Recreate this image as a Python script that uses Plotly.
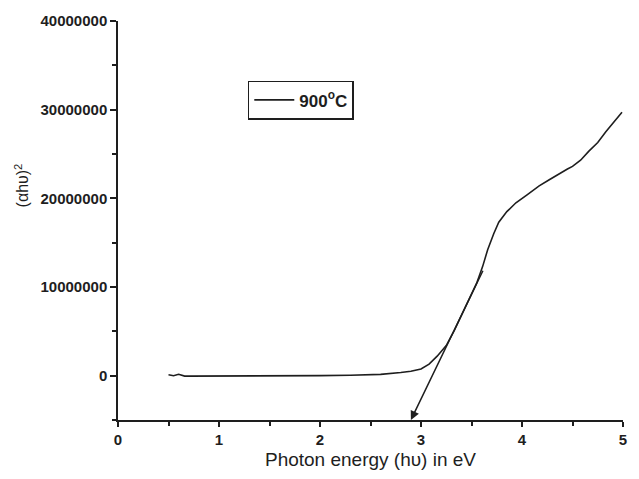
import plotly.graph_objects as go

# Curve data: photon energy (eV) vs (alpha h nu)^2
energy = [0.50, 0.55, 0.60, 0.63, 0.66, 0.70, 1.00, 1.50, 2.00, 2.30, 2.60, 2.80, 2.90,
          3.00, 3.08, 3.16, 3.25, 3.33, 3.41, 3.48, 3.55, 3.61, 3.66, 3.72, 3.77,
          3.85, 3.94, 4.05, 4.17, 4.27, 4.37, 4.45, 4.50, 4.58, 4.66, 4.75, 4.83, 4.91, 4.99]
alpha_hv2 = [0.10e6, 0.0, 0.15e6, 0.05e6, -0.05e6, -0.05e6, -0.05e6, -0.05e6, 0.0, 0.05e6,
             0.15e6, 0.35e6, 0.50e6, 0.75e6, 1.30e6, 2.20e6, 3.40e6, 5.10e6, 7.00e6, 8.70e6,
             10.4e6, 12.3e6, 14.2e6, 16.0e6, 17.3e6, 18.5e6, 19.5e6, 20.4e6, 21.4e6, 22.1e6,
             22.8e6, 23.3e6, 23.6e6, 24.3e6, 25.3e6, 26.3e6, 27.5e6, 28.6e6, 29.7e6]

# Tangent (extrapolation) line: tail and head
tangent_x = [3.62, 2.90]
tangent_y = [12.0e6, -5.0e6]

legend_label = "<b>900<sup>o</sup>C</b>"
y_ticks = [0, 10000000, 20000000, 30000000, 40000000]
y_ticktext = ["0", "10000000", "20000000", "30000000", "40000000"]
x_ticks = [0, 1, 2, 3, 4, 5]
x_ticktext = ["0", "1", "2", "3", "4", "5"]

INK = "#1e1e1e"
FONT = "Liberation Sans, Arial, sans-serif"

fig = go.Figure()
fig.add_trace(go.Scatter(x=energy, y=alpha_hv2, mode="lines",
                         line=dict(color=INK, width=1.6),
                         name=legend_label, showlegend=True))

fig.add_annotation(x=tangent_x[1], y=tangent_y[1], ax=tangent_x[0], ay=tangent_y[0],
                   xref="x", yref="y", axref="x", ayref="y",
                   showarrow=True, arrowhead=2, arrowsize=1.2, arrowwidth=1.5,
                   arrowcolor=INK, text="")

fig.add_annotation(text="(αhυ)<sup>2</sup>", xref="paper", yref="paper",
                   x=-0.19, y=0.588, xanchor="center", yanchor="middle",
                   showarrow=False, textangle=-90,
                   font=dict(family=FONT, size=16, color=INK))

fig.update_layout(
    width=639, height=479,
    margin=dict(l=118, r=15, t=13, b=55),
    plot_bgcolor="white", paper_bgcolor="white",
    font=dict(family=FONT, color=INK),
    showlegend=True,
    legend=dict(x=0.257, y=0.85, xanchor="left", yanchor="top",
                bordercolor=INK, borderwidth=1.5, bgcolor="white",
                font=dict(size=17, color=INK, family=FONT),
                itemwidth=40, tracegroupgap=0),
    xaxis=dict(range=[0, 5], tickvals=x_ticks, ticktext=["<b>%s</b>" % t for t in x_ticktext],
               showgrid=False, zeroline=False,
               showline=True, linecolor=INK, linewidth=1.5,
               ticks="outside", ticklen=5, tickwidth=1.5, tickcolor=INK,
               minor=dict(dtick=0.5, ticks="outside", ticklen=4, tickwidth=1.5, tickcolor=INK),
               tickfont=dict(size=15, family=FONT, color=INK),
               title=dict(text="Photon energy (hυ) in eV",
                          font=dict(size=19, family=FONT, color=INK), standoff=6)),
    yaxis=dict(range=[-5e6, 4e7], tickvals=y_ticks, ticktext=["<b>%s</b>" % t for t in y_ticktext],
               showgrid=False,
               zeroline=False, showline=True, linecolor=INK, linewidth=1.5,
               ticks="outside", ticklen=6, tickwidth=1.5, tickcolor=INK,
               minor=dict(dtick=5e6, ticks="outside", ticklen=4, tickwidth=1.5, tickcolor=INK),
               tickfont=dict(size=15, family=FONT, color=INK)),
)

fig.write_html("out.html")
